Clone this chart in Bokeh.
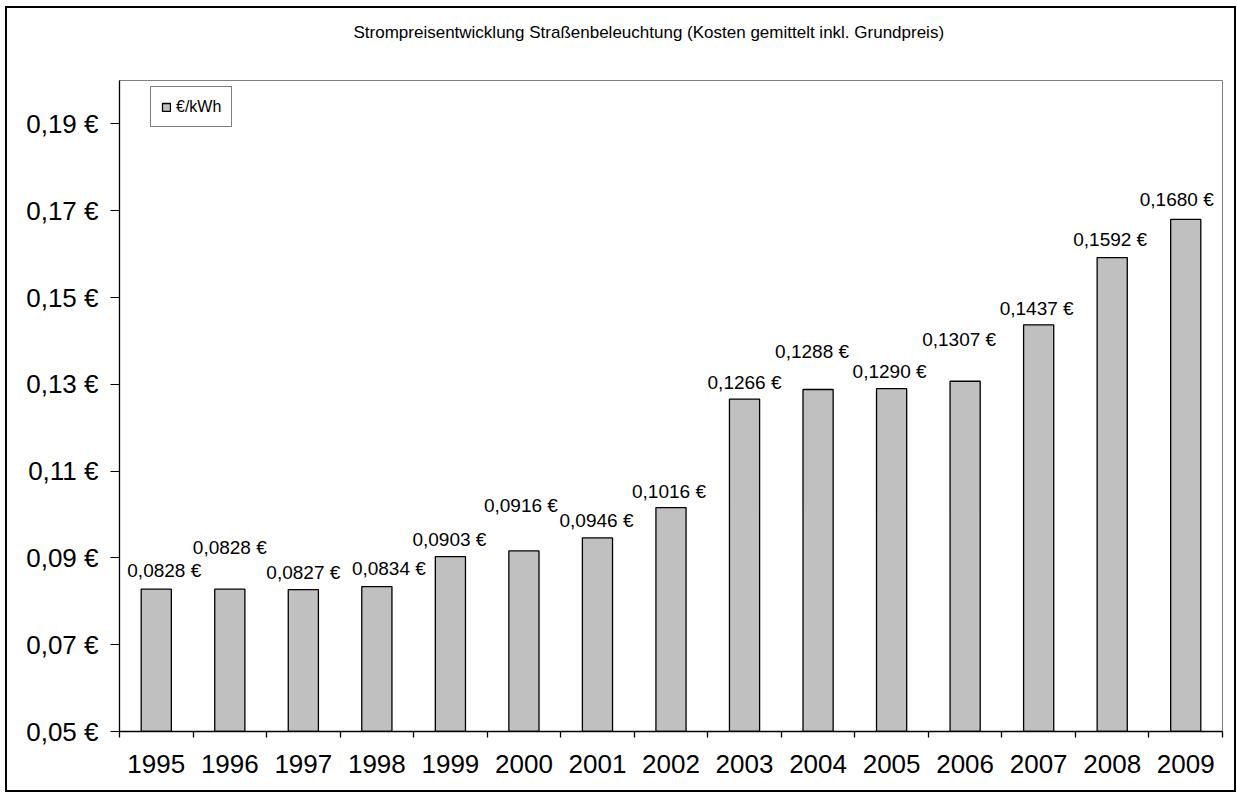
from bokeh.plotting import figure
from bokeh.models import Range1d, FixedTicker, ColumnDataSource, Title, InlineStyleSheet
from bokeh.core.properties import value
from bokeh.embed import file_html
from bokeh.resources import INLINE

# ---- data ----
title_text = "Strompreisentwicklung Straßenbeleuchtung (Kosten gemittelt inkl. Grundpreis)"
series_name = "€/kWh"
years = ["1995", "1996", "1997", "1998", "1999", "2000", "2001", "2002",
         "2003", "2004", "2005", "2006", "2007", "2008", "2009"]
prices = [0.0828, 0.0828, 0.0827, 0.0834, 0.0903, 0.0916, 0.0946, 0.1016,
          0.1266, 0.1288, 0.1290, 0.1307, 0.1437, 0.1592, 0.1680]
y_ticks = [0.05, 0.07, 0.09, 0.11, 0.13, 0.15, 0.17, 0.19]
y_tick_labels = ["0,05 €", "0,07 €", "0,09 €", "0,11 €", "0,13 €", "0,15 €", "0,17 €", "0,19 €"]

# ---- label placement (style: pixel nudges as in the original) ----
label_dx = [8, 0, 0, 12, -1, -3, -1, -2, 0, -6, -2, -6, -2, -2, -9]
label_dy = [19, 42, 17, 18, 17, 45, 17, 16, 17, 38, 17, 42, 16, 18, 20]

FONT = "Liberation Sans"

xpos = list(range(1, len(years) + 1))
labels = [("%.4f" % v).replace(".", ",") + " €" for v in prices]

src = ColumnDataSource(dict(
    x=xpos, year=years, price=prices, label=labels,
    dx=label_dx, dy=[-d for d in label_dy],
))

W, H = 1237, 793
BL, BR, BT, BB = 119, 15, 79, 62
p = figure(width=W, height=H, output_backend="svg", toolbar_location=None,
           x_range=Range1d(0.5, len(years) + 0.5), y_range=Range1d(0.05, 0.20),
           min_border_left=BL, min_border_right=BR, min_border_top=BT, min_border_bottom=BB,
           title=None)

# outer chart border drawn over the whole figure
p.stylesheets = [InlineStyleSheet(css="""
:host { position: relative; }
:host::after {
  content: "";
  position: absolute;
  left: 5px; top: 6px; right: 1px; bottom: 1px;
  border: 2px solid black;
  pointer-events: none;
  z-index: 1000;
}
""")]

# spacer between plot frame and title, then the title itself
p.add_layout(Title(text=" ", text_font_size="1px", standoff=16), "above")
p.add_layout(Title(text=title_text, text_font=FONT, text_font_size="17px",
                   text_font_style="normal", text_color="black",
                   align="left", offset=234, standoff=40), "above")

p.vbar(x="x", top="price", bottom=0.05, width=0.41, source=src,
       fill_color="#C0C0C0", line_color="#000000", line_width=1.3,
       legend_label=series_name)

p.text(x="x", y="price", text="label", x_offset="dx", y_offset="dy", source=src,
       text_font=value(FONT), text_font_size="19px", text_color="black",
       text_align="center", text_baseline="middle")

# grids / outline
p.xgrid.visible = False
p.ygrid.visible = False
p.outline_line_color = "#808080"
p.outline_line_width = 1
p.background_fill_color = "white"
p.border_fill_color = "white"

# y axis
ya = p.yaxis[0]
ya.ticker = FixedTicker(ticks=y_ticks)
ya.major_label_overrides = {t: l for t, l in zip(y_ticks, y_tick_labels)}
ya.major_label_text_font = FONT
ya.major_label_text_font_size = "26px"
ya.major_label_text_color = "black"
ya.major_tick_out = 9
ya.major_tick_in = 0
ya.minor_tick_line_color = None
ya.major_label_standoff = 12
ya.axis_line_color = "black"
ya.axis_line_width = 1.3
ya.major_tick_line_color = "black"

# x axis: labels at bar centres, tick marks at category boundaries
xa = p.xaxis[0]
xa.ticker = FixedTicker(ticks=xpos, minor_ticks=[i + 0.5 for i in range(0, len(years) + 1)])
xa.major_label_overrides = {x: y for x, y in zip(xpos, years)}
xa.major_label_text_font = FONT
xa.major_label_text_font_size = "26px"
xa.major_label_text_color = "black"
xa.major_tick_line_color = None
xa.major_tick_out = 0
xa.major_tick_in = 0
xa.minor_tick_line_color = "black"
xa.minor_tick_out = 6
xa.minor_tick_in = 0
xa.minor_tick_line_width = 1.3
xa.major_label_standoff = 17
xa.axis_line_color = "black"
xa.axis_line_width = 1.3

# legend
lg = p.legend[0]
lg.location = (31, 604)
lg.label_text_font = FONT
lg.label_text_font_size = "16px"
lg.label_text_color = "black"
lg.glyph_width = 10
lg.glyph_height = 10
lg.label_height = 19
lg.label_standoff = 5
lg.padding = 10
lg.margin = 0
lg.spacing = 0
lg.border_line_color = "black"
lg.border_line_width = 1
lg.background_fill_alpha = 1

open("out.html", "w").write(file_html(p, INLINE))
